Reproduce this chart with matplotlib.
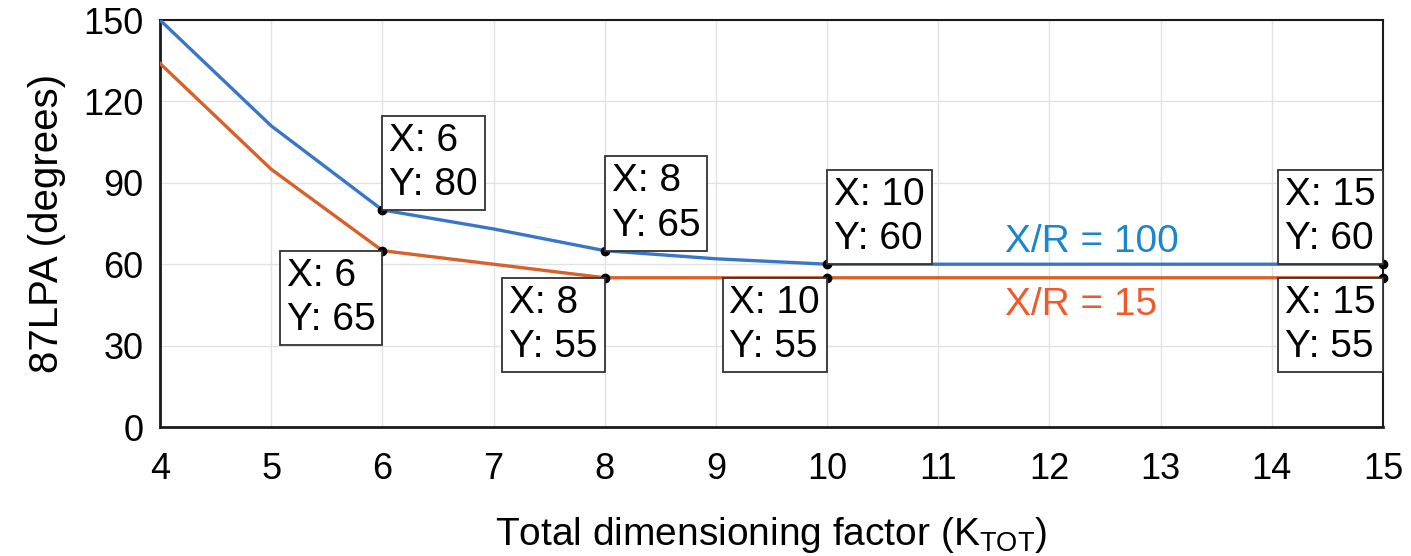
import matplotlib.pyplot as plt

plt.rcParams["font.family"] = ["Liberation Sans", "DejaVu Sans"]
plt.rcParams["mathtext.fontset"] = "custom"
plt.rcParams["mathtext.rm"] = "Liberation Sans"
plt.rcParams["mathtext.it"] = "Liberation Sans:italic"

# curve data: angle vs. total dimensioning factor
k_tot = [4, 5, 6, 7, 8, 9, 10, 11, 12, 13, 14, 15]
lpa_xr100 = [150, 111, 80, 73, 65, 62, 60, 60, 60, 60, 60, 60]
lpa_xr15 = [134, 95, 65, 60, 55, 55, 55, 55, 55, 55, 55, 55]

# data tips: (x, y, corner of the box placed on the point)
tips_xr100 = [(6, 80, "ll"), (8, 65, "ll"), (10, 60, "ll"), (15, 60, "lr")]
tips_xr15 = [(6, 65, "ur"), (8, 55, "ur"), (10, 55, "ur"), (15, 55, "ur")]

x_ticks = list(range(4, 16))
y_ticks = [0, 30, 60, 90, 120, 150]

BLUE = "#3a76c6"
ORANGE = "#d8602a"
FS = 26      # tick labels
FS_TXT = 28  # data tips, line labels, axis labels

fig = plt.figure(figsize=(14.11, 5.56), dpi=100)
ax = fig.add_axes([0.1134, 0.232, 0.8667, 0.732])

ax.plot(k_tot, lpa_xr100, color=BLUE, lw=2.4, zorder=3)
ax.plot(k_tot, lpa_xr15, color=ORANGE, lw=2.4, zorder=3)

PAD = 5.0  # box padding in points


def add_tip(x, y, corner):
    ax.plot([x], [y], "o", color="black", ms=6, zorder=5, clip_on=False)
    ha = "left" if corner[1] == "l" else "right"
    va = "bottom" if corner[0] == "l" else "top"
    dx = PAD if ha == "left" else -PAD
    dy = PAD if va == "bottom" else -PAD
    ax.annotate(
        f"X: {x}\nY: {y}",
        xy=(x, y),
        xytext=(dx, dy),
        textcoords="offset points",
        ha=ha,
        va=va,
        multialignment="left",
        fontsize=FS_TXT,
        linespacing=1.3,
        zorder=6,
        bbox=dict(boxstyle=f"square,pad={PAD / FS_TXT:.3f}", fc="white",
                  ec="#333333", lw=1.3),
    )


for x, y, corner in tips_xr100 + tips_xr15:
    add_tip(x, y, corner)

ax.text(11.6, 61.5, "X/R = 100", color="#1a86cc", fontsize=FS_TXT,
        ha="left", va="bottom")
ax.text(11.6, 51.5, "X/R = 15", color="#ee5a2c", fontsize=FS_TXT,
        ha="left", va="top")

ax.set_xlim(4, 15)
ax.set_ylim(0, 150)
ax.set_xticks(x_ticks)
ax.set_yticks(y_ticks)
ax.tick_params(axis="both", length=0, labelsize=FS)
ax.tick_params(axis="x", pad=18)
ax.tick_params(axis="y", pad=12)
ax.grid(True, color="#e2e2e2", lw=1.0)
ax.set_axisbelow(True)

for side in ["left", "bottom"]:
    ax.spines[side].set_linewidth(2.0)
for side in ["top", "right"]:
    ax.spines[side].set_linewidth(1.5)
for sp in ax.spines.values():
    sp.set_color("#1a1a1a")

ax.set_ylabel("87LPA (degrees)", fontsize=FS_TXT + 1, labelpad=12)
ax.set_xlabel(r"Total dimensioning factor (K$_{\mathrm{TOT}}$)",
              fontsize=FS_TXT, labelpad=20)

fig.savefig("out.png", dpi=100)
